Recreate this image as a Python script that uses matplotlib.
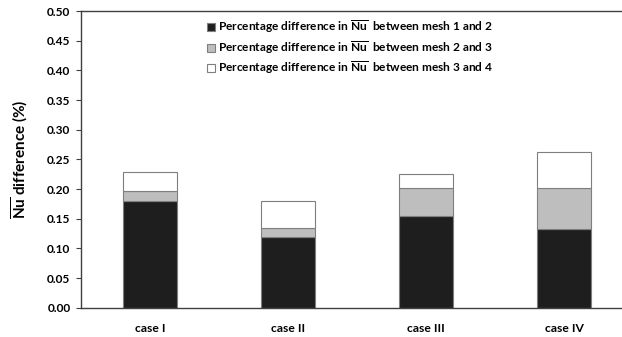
import matplotlib.pyplot as plt
import numpy as np

plt.rcParams['font.family'] = ['Lato', 'DejaVu Sans']
plt.rcParams['font.weight'] = 'bold'
plt.rcParams['mathtext.fontset'] = 'custom'
plt.rcParams['mathtext.rm'] = 'Lato:bold'
plt.rcParams['mathtext.bf'] = 'Lato:bold'

cases = ['case I', 'case II', 'case III', 'case IV']
# percentage difference of mean Nu between successive meshes
diff_12 = [0.180, 0.120, 0.155, 0.132]
diff_23 = [0.016, 0.015, 0.046, 0.070]
diff_34 = [0.032, 0.045, 0.024, 0.061]

nu = r'$\overline{\mathrm{Nu}}$'
labels = ['Percentage difference in ' + nu + '  between mesh 1 and 2',
          'Percentage difference in ' + nu + '  between mesh 2 and 3',
          'Percentage difference in ' + nu + '  between mesh 3 and 4']

fig = plt.figure(figsize=(6.22, 3.37), dpi=100)
ax = fig.add_axes([0.130, 0.087, 0.870, 0.880])

x = np.arange(len(cases))
w = 0.39
edge = '#7f7f7f'
ax.bar(x, diff_12, w, color='#1e1e1e', edgecolor=edge, linewidth=0.8, label=labels[0])
ax.bar(x, diff_23, w, bottom=diff_12, color='#bebebe', edgecolor=edge, linewidth=0.8, label=labels[1])
bot3 = np.array(diff_12) + np.array(diff_23)
ax.bar(x, diff_34, w, bottom=bot3, color='white', edgecolor=edge, linewidth=0.8, label=labels[2])

ax.set_xlim(-0.5, 3.42)
ax.set_ylim(0, 0.5)
yt = np.arange(0, 0.51, 0.05)
ax.set_yticks(yt)
ax.set_yticklabels(['%.2f' % v for v in yt], fontsize=8.6, fontweight='bold')
ax.set_xticks(x)
ax.set_xticklabels(cases, fontsize=8.7, fontweight='bold')
ax.tick_params(axis='x', length=0, pad=11)
ax.tick_params(axis='y', length=3.5, width=0.8, color='#404040', pad=4)

for s in ['left', 'bottom', 'top']:
    ax.spines[s].set_color('#404040')
    ax.spines[s].set_linewidth(1.0)
ax.spines['right'].set_visible(False)

ax.set_ylabel(nu + ' difference (%)', fontsize=11, fontweight='bold', labelpad=12)

ax.legend(loc='upper left', bbox_to_anchor=(0.22, 1.0), frameon=False, fontsize=8.6,
          handlelength=0.65, handleheight=0.65, handletextpad=0.3, labelspacing=0.3,
          borderaxespad=0.2)

fig.savefig('out.png', dpi=100)
